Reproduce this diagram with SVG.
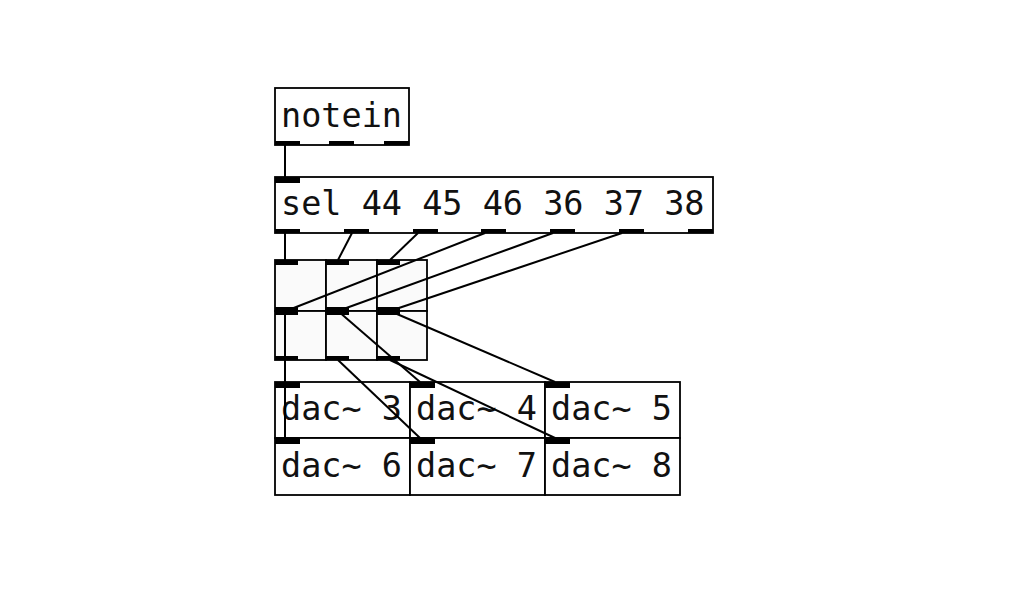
<svg xmlns="http://www.w3.org/2000/svg" width="1032" height="614" viewBox="0 0 1032 614">
<style>
.box{fill:#fff;stroke:#000;stroke-width:1.8}
.cell{fill:#fafafa;stroke:#000;stroke-width:1.8}
.io{fill:#000}
.t{font-family:"DejaVu Sans Mono","Liberation Mono",monospace;font-size:33.5px;fill:#111}
.c{stroke:#000;stroke-width:2;fill:none}
</style>
<rect width="1032" height="614" fill="#fff"/>
<g id="notein">
<rect class="box" x="275" y="88" width="134" height="57"/>
<text class="t" x="281" y="127">notein</text>
<rect class="io" x="275" y="141" width="25" height="4"/>
<rect class="io" x="329" y="141" width="25" height="4"/>
<rect class="io" x="384" y="141" width="25" height="4"/>
</g>
<g id="sel">
<rect class="box" x="275" y="177" width="438" height="56"/>
<text class="t" x="281" y="215">sel 44 45 46 36 37 38</text>
<rect class="io" x="275" y="177" width="25" height="6"/>
<rect class="io" x="275" y="229" width="25" height="4"/>
<rect class="io" x="344" y="229" width="25" height="4"/>
<rect class="io" x="413" y="229" width="25" height="4"/>
<rect class="io" x="481" y="229" width="25" height="4"/>
<rect class="io" x="550" y="229" width="25" height="4"/>
<rect class="io" x="619" y="229" width="25" height="4"/>
<rect class="io" x="688" y="229" width="25" height="4"/>
</g>
<g id="box11"><rect class="cell" x="275" y="260" width="51" height="51"/><rect class="io" x="275" y="260" width="23" height="5"/><rect class="io" x="275" y="307" width="23" height="4"/></g>
<g id="box12"><rect class="cell" x="326" y="260" width="51" height="51"/><rect class="io" x="326" y="260" width="23" height="5"/><rect class="io" x="326" y="307" width="23" height="4"/></g>
<g id="box13"><rect class="cell" x="377" y="260" width="50" height="51"/><rect class="io" x="377" y="260" width="23" height="5"/><rect class="io" x="377" y="307" width="23" height="4"/></g>
<g id="box21"><rect class="cell" x="275" y="311" width="51" height="49"/><rect class="io" x="275" y="311" width="23" height="4"/><rect class="io" x="275" y="356" width="23" height="4"/></g>
<g id="box22"><rect class="cell" x="326" y="311" width="51" height="49"/><rect class="io" x="326" y="311" width="23" height="4"/><rect class="io" x="326" y="356" width="23" height="4"/></g>
<g id="box23"><rect class="cell" x="377" y="311" width="50" height="49"/><rect class="io" x="377" y="311" width="23" height="4"/><rect class="io" x="377" y="356" width="23" height="4"/></g>
<g id="dac3"><rect class="box" x="275" y="382" width="135" height="56"/><text class="t" x="281" y="420">dac~ 3</text><rect class="io" x="275" y="382" width="25" height="6"/></g>
<g id="dac4"><rect class="box" x="410" y="382" width="135" height="56"/><text class="t" x="416" y="420">dac~ 4</text><rect class="io" x="410" y="382" width="25" height="6"/></g>
<g id="dac5"><rect class="box" x="545" y="382" width="135" height="56"/><text class="t" x="551" y="420">dac~ 5</text><rect class="io" x="545" y="382" width="25" height="6"/></g>
<g id="dac6"><rect class="box" x="275" y="438" width="135" height="57"/><text class="t" x="281" y="477">dac~ 6</text><rect class="io" x="275" y="438" width="25" height="6"/></g>
<g id="dac7"><rect class="box" x="410" y="438" width="135" height="57"/><text class="t" x="416" y="477">dac~ 7</text><rect class="io" x="410" y="438" width="25" height="6"/></g>
<g id="dac8"><rect class="box" x="545" y="438" width="135" height="57"/><text class="t" x="551" y="477">dac~ 8</text><rect class="io" x="545" y="438" width="25" height="6"/></g>
<g id="connectors">
<line class="c" x1="285" y1="145" x2="285" y2="177"/>
<line class="c" x1="285" y1="233" x2="285" y2="260"/>
<line class="c" x1="352" y1="233" x2="338" y2="260"/>
<line class="c" x1="418" y1="233" x2="390" y2="260"/>
<line class="c" x1="485" y1="233" x2="286" y2="311"/>
<line class="c" x1="553" y1="233" x2="338" y2="311"/>
<line class="c" x1="622" y1="233" x2="390" y2="311"/>
<line class="c" x1="285" y1="311" x2="285" y2="382"/>
<line class="c" x1="338" y1="311" x2="420" y2="382"/>
<line class="c" x1="390" y1="311" x2="555" y2="382"/>
<line class="c" x1="285" y1="360" x2="285" y2="438"/>
<line class="c" x1="338" y1="360" x2="420" y2="438"/>
<line class="c" x1="390" y1="360" x2="555" y2="438"/>
</g>
</svg>
